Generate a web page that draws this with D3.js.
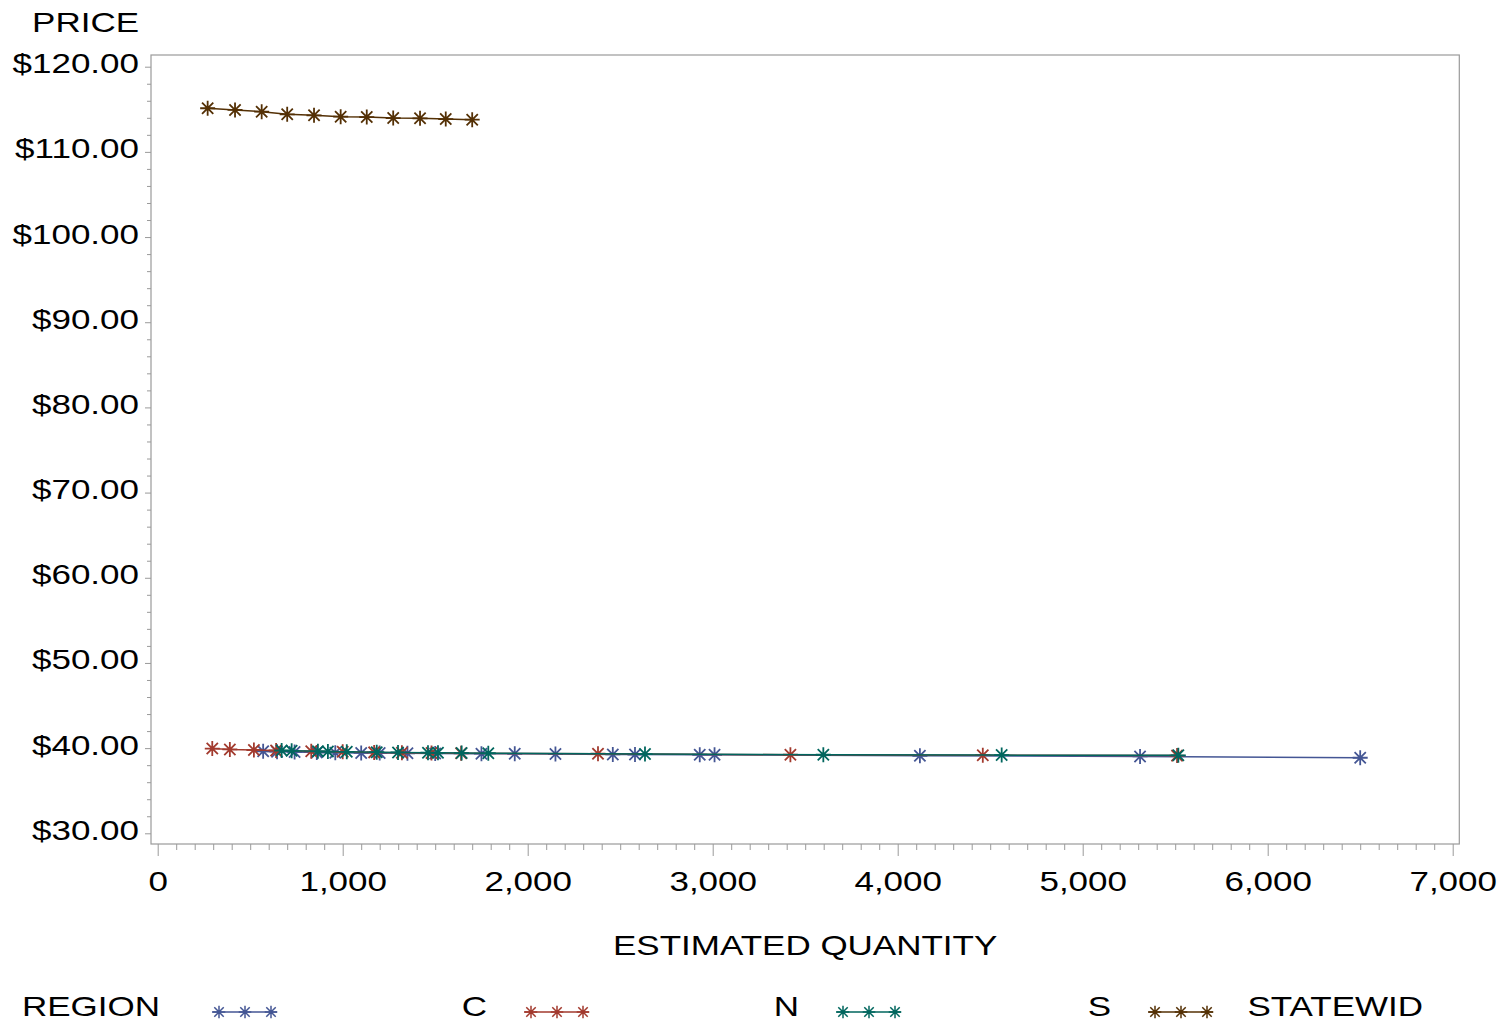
<!DOCTYPE html>
<html><head><meta charset="utf-8">
<script src="https://cdn.jsdelivr.net/npm/d3@7"></script>
<style>
body{margin:0;background:#fff}
text{font-family:"Liberation Sans",Arial,Helvetica,sans-serif;fill:#000}
</style>
</head><body>
<svg id="chart" width="1511" height="1025"></svg>
<script>
// ---- data ----
const seriesNames = ["C", "N", "S", "STATEWID"];
const seriesColors = ["#445694", "#A23A2E", "#01665E", "#543005"];

const qtyC   = [570, 645, 740, 860, 960, 1100, 1200, 1350, 1500, 1750, 1930, 2150, 2460, 2580, 2930, 3010, 4120, 5310, 6500];
const priceC = [39.62, 39.58, 39.55, 39.50, 39.47, 39.44, 39.42, 39.40, 39.38, 39.35, 39.33, 39.30, 39.26, 39.25, 39.22, 39.21, 39.10, 39.02, 38.87];

const qtyN   = [295, 390, 520, 640, 830, 1000, 1170, 1320, 1480, 1640, 2380, 3420, 4460, 5510];
const priceN = [39.95, 39.85, 39.78, 39.72, 39.62, 39.57, 39.50, 39.47, 39.43, 39.40, 39.34, 39.22, 39.17, 39.12];

const qtyS   = [670, 724, 866, 920, 1022, 1184, 1299, 1461, 1515, 1643, 1787, 2634, 3598, 4562, 5517];
const priceS = [39.72, 39.68, 39.62, 39.60, 39.57, 39.52, 39.49, 39.46, 39.45, 39.42, 39.40, 39.30, 39.22, 39.18, 39.15];

const qtyST   = [270, 418, 562, 700, 845, 989, 1130, 1273, 1418, 1557, 1700];
const priceST = [115.12, 114.92, 114.72, 114.41, 114.29, 114.13, 114.09, 113.97, 113.94, 113.85, 113.78];

const xTickValues = [0, 1000, 2000, 3000, 4000, 5000, 6000, 7000];
const yTickValues = [30, 40, 50, 60, 70, 80, 90, 100, 110, 120];

const xTitle = "ESTIMATED QUANTITY";
const yTitle = "PRICE";
const legendTitle = "REGION";

// ---- chart ----
const svg = d3.select("#chart");
const FS = 28, SX = 1.25;
const axisGray = "#9a9a9a";

const x = d3.scaleLinear().domain([0, 7000]).range([157.7, 1452.7]);
const y = d3.scaleLinear().domain([30, 120]).range([833.3, 66.7]);

const frame = {left: 151, top: 55, right: 1459.3, bottom: 844};

svg.append("rect")
  .attr("x", frame.left).attr("y", frame.top)
  .attr("width", frame.right - frame.left).attr("height", frame.bottom - frame.top)
  .attr("fill", "none").attr("stroke", axisGray).attr("stroke-width", 1.2);

// Y axis
const yMinor = d3.range(30, 121, 2).filter(v => v % 10 !== 0);
svg.append("g").attr("transform", `translate(${frame.left},0)`)
  .call(d3.axisLeft(y).tickValues(yMinor).tickSize(4).tickFormat(""))
  .call(g => g.select(".domain").remove())
  .selectAll("line").attr("stroke", axisGray);

const yAx = svg.append("g").attr("transform", `translate(${frame.left},0)`)
  .call(d3.axisLeft(y).tickValues(yTickValues).tickSize(6).tickFormat(d3.format("$.2f")));
yAx.select(".domain").remove();
yAx.selectAll("line").attr("stroke", axisGray);
yAx.selectAll("text")
  .attr("x", 0).attr("dy", null)
  .attr("font-size", FS)
  .attr("text-anchor", "end")
  .attr("transform", `translate(-12,6) scale(${SX},1)`);

// X axis
const xMinor = d3.range(0, 7001, 100).filter(v => v % 1000 !== 0);
svg.append("g").attr("transform", `translate(0,${frame.bottom})`)
  .call(d3.axisBottom(x).tickValues(xMinor).tickSize(6).tickFormat(""))
  .call(g => g.select(".domain").remove())
  .selectAll("line").attr("stroke", axisGray);

const xAx = svg.append("g").attr("transform", `translate(0,${frame.bottom})`)
  .call(d3.axisBottom(x).tickValues(xTickValues).tickSize(12).tickFormat(d3.format(",")));
xAx.select(".domain").remove();
xAx.selectAll("line").attr("stroke", axisGray);
xAx.selectAll("text")
  .attr("y", 0).attr("dy", null)
  .attr("font-size", FS)
  .attr("text-anchor", "middle")
  .attr("transform", `translate(0,47) scale(${SX},1)`);

// titles
function scaledText(txt, px, py, anchor) {
  svg.append("text")
    .attr("transform", `translate(${px},${py}) scale(${SX},1)`)
    .attr("text-anchor", anchor)
    .attr("font-size", FS)
    .text(txt);
}
scaledText(yTitle, 139, 32, "end");
scaledText(xTitle, (frame.left + frame.right) / 2, 955, "middle");

// series
const series = [
  {name: seriesNames[0], color: seriesColors[0], q: qtyC, p: priceC},
  {name: seriesNames[1], color: seriesColors[1], q: qtyN, p: priceN},
  {name: seriesNames[2], color: seriesColors[2], q: qtyS, p: priceS},
  {name: seriesNames[3], color: seriesColors[3], q: qtyST, p: priceST}
];

function star(r) {
  const d = r * 0.75;
  return `M${-r},0H${r}M0,${-r}V${r}M${-d},${-d}L${d},${d}M${-d},${d}L${d},${-d}`;
}

const line = d3.line().x(d => x(d[0])).y(d => y(d[1]));

series.forEach(s => {
  const pts = s.q.map((q, i) => [q, s.p[i]]);
  const g = svg.append("g");
  g.append("path").attr("d", line(pts))
    .attr("fill", "none").attr("stroke", s.color).attr("stroke-width", 1.5);
  g.selectAll("path.m").data(pts).join("path").attr("class", "m")
    .attr("transform", d => `translate(${x(d[0])},${y(d[1])})`)
    .attr("d", star(7.5))
    .attr("fill", "none").attr("stroke", s.color).attr("stroke-width", 1.8);
});

// legend
scaledText(legendTitle, 22, 1016, "start");
const legX = d3.scaleLinear().domain([0, 1]).range([212, 524]);
series.forEach((s, i) => {
  const x0 = legX(i);
  const lg = svg.append("g").attr("transform", `translate(${x0},1012)`);
  lg.append("line").attr("x1", 0).attr("x2", 65).attr("y1", 0).attr("y2", 0)
    .attr("stroke", s.color).attr("stroke-width", 1.3);
  [7, 33, 59].forEach(cx => {
    lg.append("path").attr("transform", `translate(${cx},0)`)
      .attr("d", star(6.3)).attr("fill", "none")
      .attr("stroke", s.color).attr("stroke-width", 1.5);
  });
  scaledText(s.name, x0 + 275, 1016, "end");
});
</script>
</body></html>
